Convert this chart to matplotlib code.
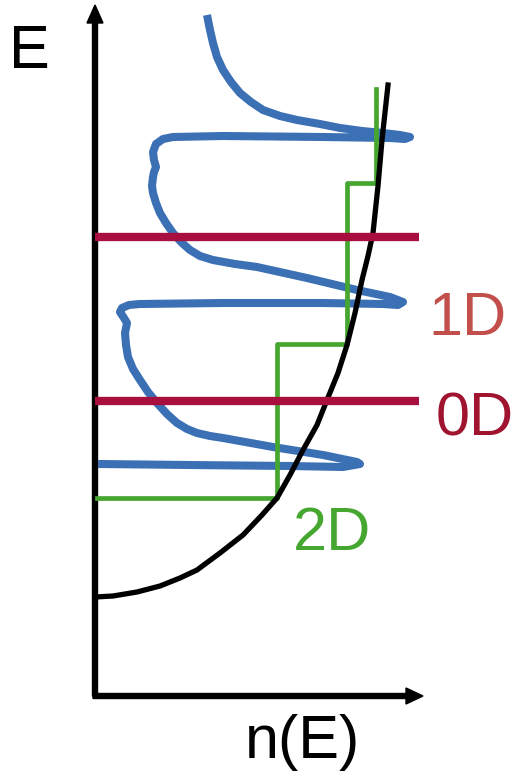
import matplotlib
matplotlib.use("Agg")
import matplotlib.pyplot as plt

# Curvas de densidad de estados, en coordenadas (n, E)
# 3D: curva negra continua
n_3d = [0, 18, 42, 65, 85, 102, 125, 148, 167, 182, 195, 208, 222, 232, 243, 252, 260, 267, 273, 278, 283, 287, 293]
E_3d = [99, 100, 104, 110, 118, 126, 143, 161, 181, 198, 221, 246, 271, 296, 323, 351, 383, 416, 440, 463, 510, 556, 611]

# 2D: escalera verde (bordes en n y niveles de E)
step_n = [2, 182, 252, 281]
step_E = [198, 352, 513, 607]

# 1D: curva azul con picos
n_1d = [112, 115, 118, 122, 128, 136, 145, 156, 168, 185, 202, 225, 245, 267, 288, 305, 315,
        310, 295, 228, 128, 78, 68, 61, 58, 59, 61, 59, 58, 57, 58, 61, 65, 71, 78, 86, 95,
        105, 118, 140, 162, 212, 262, 295, 308, 303, 288, 228, 128, 45, 34, 27, 25, 29, 32,
        30, 31, 33, 38, 45, 53, 62, 72, 82, 92, 102, 115, 128, 178, 228, 262, 265, 248, 195, 95, 3]
E_1d = [681, 666, 653, 639, 626, 614, 603, 594, 586, 580, 576, 572, 568, 565, 563, 561, 559,
        557, 558, 559, 560, 559, 557, 552, 544, 536, 529, 524, 519, 510, 503, 493, 483, 473, 463, 454, 446,
        440, 436, 432, 429, 418, 406, 399, 394, 391, 392, 393, 393, 392, 391, 388, 384, 378, 373,
        363, 351, 339, 327, 316, 304, 293, 282, 273, 267, 263, 260, 258, 249, 241, 234, 232, 229, 230, 231, 232]

# 0D: niveles discretos
E_0d = [295, 459]
n_0d_max = 324

labels = ["E", "n(E)", "1D", "0D", "2D"]

blue = "#3b70b5"
green = "#45a630"
red = "#a80f3e"

fig = plt.figure(figsize=(5.25, 7.74), dpi=100)
ax = fig.add_axes([0, 0, 1, 1])
ax.set_xlim(-95, 430)
ax.set_ylim(-78, 696)
ax.axis("off")

# Ejes con flechas
ax.arrow(0, 0, 0, 691, width=5, head_width=16, head_length=18,
         length_includes_head=True, color="black", zorder=2)
ax.arrow(-2, 0, 330, 0, width=5, head_width=16, head_length=17,
         length_includes_head=True, color="black", zorder=2)

# 1D
ax.plot(n_1d, E_1d, color=blue, lw=5.8, solid_joinstyle="round",
        solid_capstyle="butt", zorder=3)

# 2D escalera
sx, sy = [step_n[0]], [step_E[0]]
for i in range(1, len(step_n)):
    sx += [step_n[i], step_n[i]]
    sy += [step_E[i - 1], step_E[i]]
ax.plot(sx, sy, color=green, lw=3.4, zorder=4)

# 3D
ax.plot(n_3d, E_3d, color="black", lw=3.8, zorder=5)

# 0D
for e in E_0d:
    ax.plot([0, n_0d_max], [e, e], color=red, lw=6, solid_capstyle="butt", zorder=6)

font = dict(family=["Liberation Sans", "DejaVu Sans"], fontsize=44, ha="center", va="baseline")
ax.text(-66, 628, labels[0], color="black", **font)
ax.text(208, -62, labels[1], color="black", **font)
ax.text(372, 361, labels[2], color="#c24f4b", **font)
ax.text(380, 261, labels[3], color="#a0142f", **font)
ax.text(237, 146, labels[4], color=green, **font)

fig.savefig("out.png", dpi=100)
